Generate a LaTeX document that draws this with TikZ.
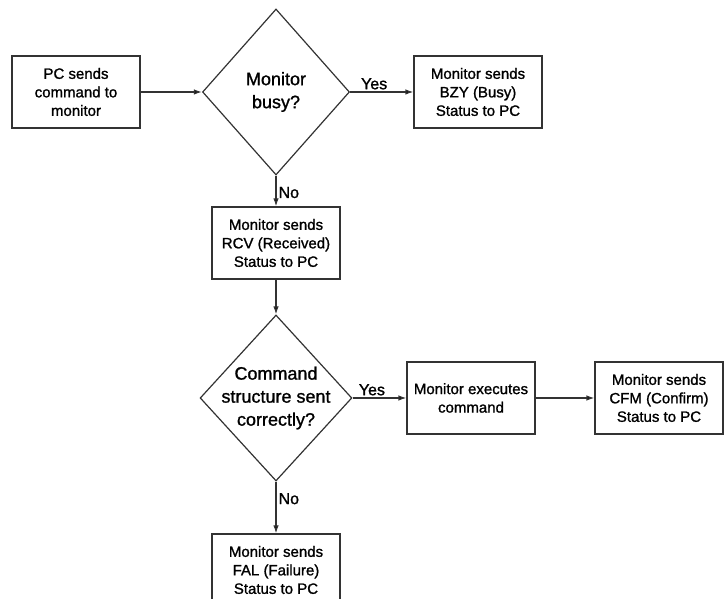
\documentclass[tikz,border=0pt]{standalone}
\usepackage{fontspec}
\setmainfont{Liberation Sans}[BoldFont={Liberation Sans},BoldFeatures={FakeBold=1.2}]
\usepackage{tikz}
\usetikzlibrary{positioning,shapes.geometric,arrows.meta}

\begin{document}
\begin{tikzpicture}[auto, on grid, line width=1.2pt,
    >={Latex[length=8pt,width=5.5pt]},
    box/.style={rectangle,draw=black!80,minimum width=128pt,minimum height=72pt,
        inner sep=0pt,align=center,font=\fontsize{15}{18.5}\selectfont\bfseries},
    decision/.style={diamond,draw=black!80,minimum width=147pt,minimum height=166pt,
        inner xsep=-10pt,inner ysep=0pt,align=center,font=\fontsize{18}{23}\selectfont\bfseries},
    lbl/.style={font=\fontsize{16}{18}\selectfont\bfseries,inner sep=2pt}]
    \useasboundingbox (0,0) rectangle (728pt,599pt);
    \node[box] (pc) at (76pt,507pt) {PC sends\\command to\\monitor};
    \node[decision] (busy) [right=200pt of pc] {Monitor\\busy?};
    \node[box] (bzy) [right=202pt of busy] {Monitor sends\\BZY (Busy)\\Status to PC};
    \node[box] (rcv) [below=151pt of busy] {Monitor sends\\RCV (Received)\\Status to PC};
    \node[decision] (correct) [below=155pt of rcv] {Command\\structure sent\\correctly?};
    \node[box] (exec) [right=195pt of correct] {Monitor executes\\command};
    \node[box] (cfm) [right=188pt of exec] {Monitor sends\\CFM (Confirm)\\Status to PC};
    \node[box] (fal) [below=172pt of correct] {Monitor sends\\FAL (Failure)\\Status to PC};
    \path[->, draw=black!80]
    (pc) edge (busy)
    (busy) edge node[lbl, pos=0.38] {Yes} (bzy)
           edge node[lbl, pos=0.55] {No} (rcv)
    (rcv) edge (correct)
    (correct) edge node[lbl, pos=0.36] {Yes} (exec)
              edge node[lbl, pos=0.33] {No} (fal)
    (exec) edge (cfm);
\end{tikzpicture}
\end{document}
